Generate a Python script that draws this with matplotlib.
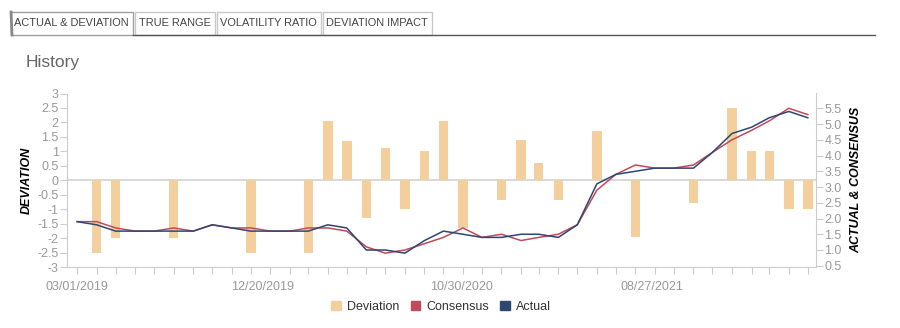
import matplotlib
matplotlib.use("Agg")
import matplotlib.pyplot as plt
from matplotlib.patches import Rectangle, Patch
import pandas as pd

plt.rcParams['font.family'] = ['Liberation Sans', 'DejaVu Sans']

# monthly release dates
dates = pd.to_datetime([
    "2019-03-01", "2019-04-01", "2019-05-01", "2019-06-01", "2019-07-01", "2019-08-01",
    "2019-09-01", "2019-10-01", "2019-11-01", "2019-12-01", "2020-01-01", "2020-02-01",
    "2020-03-01", "2020-04-01", "2020-05-01", "2020-06-01", "2020-07-01", "2020-08-01",
    "2020-09-01", "2020-10-01", "2020-11-01", "2020-12-01", "2021-01-01", "2021-02-01",
    "2021-03-01", "2021-04-01", "2021-05-01", "2021-06-01", "2021-07-01", "2021-08-01",
    "2021-09-01", "2021-10-01", "2021-11-01", "2021-12-01", "2022-01-01", "2022-02-01",
    "2022-03-01", "2022-04-01", "2022-05-01",
])

actual = [1.9, 1.8, 1.6, 1.6, 1.6, 1.6, 1.6, 1.8, 1.7, 1.6, 1.6, 1.6, 1.6,
          1.8, 1.7, 1.0, 1.0, 0.9, 1.3, 1.6, 1.5, 1.4, 1.4, 1.5, 1.5, 1.4,
          1.8, 3.1, 3.4, 3.5, 3.6, 3.6, 3.6, 4.1, 4.7, 4.9, 5.2, 5.4, 5.2]
consensus = [1.9, 1.9, 1.7, 1.6, 1.6, 1.7, 1.6, 1.8, 1.7, 1.7, 1.6, 1.6, 1.7,
             1.7, 1.6, 1.1, 0.9, 1.0, 1.2, 1.4, 1.7, 1.4, 1.5, 1.3, 1.4, 1.5,
             1.8, 2.9, 3.4, 3.7, 3.6, 3.6, 3.7, 4.1, 4.5, 4.8, 5.1, 5.5, 5.3]
deviation = [0, -2.5, -2.0, 0, 0, -2.0, 0, 0, 0, -2.5, 0, 0, -2.5,
             2.05, 1.35, -1.3, 1.1, -1.0, 1.0, 2.05, -1.65, 0, -0.7, 1.4, 0.6, -0.7,
             0, 1.7, 0, -1.95, 0, 0, -0.8, 0, 2.5, 1.0, 1.0, -1.0, -1.0]

label_dates = pd.to_datetime(["2019-03-01", "2019-12-20", "2020-10-30", "2021-08-27"])
label_text = ["03/01/2019", "12/20/2019", "10/30/2020", "08/27/2021"]

tabs = ["ACTUAL & DEVIATION", "TRUE RANGE", "VOLATILITY RATIO", "DEVIATION IMPACT"]

c_dev = "#f2cf9c"
c_con = "#c04a5c"
c_act = "#2e4670"
c_axis = "#cccccc"
c_tick = "#999999"

fig = plt.figure(figsize=(9, 3.28), dpi=100)

# header (tabs + title) drawn in pixel space
bg = fig.add_axes([0, 0, 1, 1])
bg.set_xlim(0, 900)
bg.set_ylim(328, 0)
bg.axis("off")
tab_x = [(11, 132.5), (134.5, 214.5), (216.5, 321), (323, 431.5)]
for i, (name, (x0, x1)) in enumerate(zip(tabs, tab_x)):
    bg.add_patch(Rectangle((x0, 12), x1 - x0, 23, facecolor="white",
                           edgecolor="#a0a0a0" if i == 0 else "#c8c8c8", lw=1))
    bg.text((x0 + x1) / 2, 23.5, name, ha="center", va="center",
            fontsize=7.9, color="#444444")
bg.plot([11, 12], [12, 35], color="#888888", lw=2)
bg.plot([132.5, 875], [35, 35], color="#555555", lw=1)
bg.text(26, 62, "History", ha="left", va="center", fontsize=12.5, color="#666666")

ax = fig.add_axes([67 / 900, 1 - 267 / 328, (816 - 67) / 900, (267 - 93.5) / 328])
ax2 = ax.twinx()

ax.bar(dates, deviation, width=15, color=c_dev, zorder=2)
ax.axhline(0, color="#d6d6d6", lw=1.3, zorder=1)
ax.set_ylim(-3, 3)
ax.set_yticks([-3, -2.5, -2, -1.5, -1, -0.5, 0, 0.5, 1, 1.5, 2, 2.5, 3])
ax.set_yticklabels(["-3", "-2.5", "-2", "-1.5", "-1", "-0.5", "0", "0.5", "1", "1.5", "2", "2.5", "3"])
ax.set_ylabel("DEVIATION", fontsize=9, fontweight="bold", style="italic", labelpad=3)

ax2.plot(dates, consensus, color=c_con, lw=1.1)
ax2.plot(dates, actual, color=c_act, lw=1.1)
ax2.set_ylim(0.46, 5.97)
ax2.set_yticks([0.5, 1, 1.5, 2, 2.5, 3, 3.5, 4, 4.5, 5, 5.5])
ax2.set_yticklabels(["%.1f" % v for v in [0.5, 1, 1.5, 2, 2.5, 3, 3.5, 4, 4.5, 5, 5.5]])
ax2.set_ylabel("ACTUAL & CONSENSUS", fontsize=9, fontweight="bold", style="italic",
               rotation=90, labelpad=6)

ax.set_xlim(pd.Timestamp("2019-02-13"), pd.Timestamp("2022-05-14"))
ax.xaxis.remove_overlapping_locs = False
ax.set_xticks(dates)
ax.set_xticklabels([""] * len(dates))
ax.set_xticks(label_dates, label_text, minor=True)
ax.tick_params(axis="x", which="major", length=5, color=c_axis)
ax.tick_params(axis="x", which="minor", length=0, pad=10, labelsize=9, labelcolor="#999999")

for a in (ax, ax2):
    for s in a.spines.values():
        s.set_visible(False)
    a.tick_params(axis="y", length=5, color=c_axis, labelsize=9, labelcolor=c_tick, pad=1)
ax.spines["left"].set_visible(True)
ax.spines["left"].set_color(c_axis)
ax.spines["bottom"].set_visible(True)
ax.spines["bottom"].set_color(c_axis)
ax2.spines["right"].set_visible(True)
ax2.spines["right"].set_color(c_axis)

handles = [Patch(color=c_dev, label="Deviation"),
           Patch(color=c_con, label="Consensus"),
           Patch(color=c_act, label="Actual")]
fig.legend(handles=handles, loc="center", bbox_to_anchor=(0.49, 0.064), ncol=3,
           frameon=False, fontsize=9, handlelength=0.75, handleheight=0.75,
           handletextpad=0.5, columnspacing=0.9, labelcolor="#333333")

fig.savefig("out.png", dpi=100)
